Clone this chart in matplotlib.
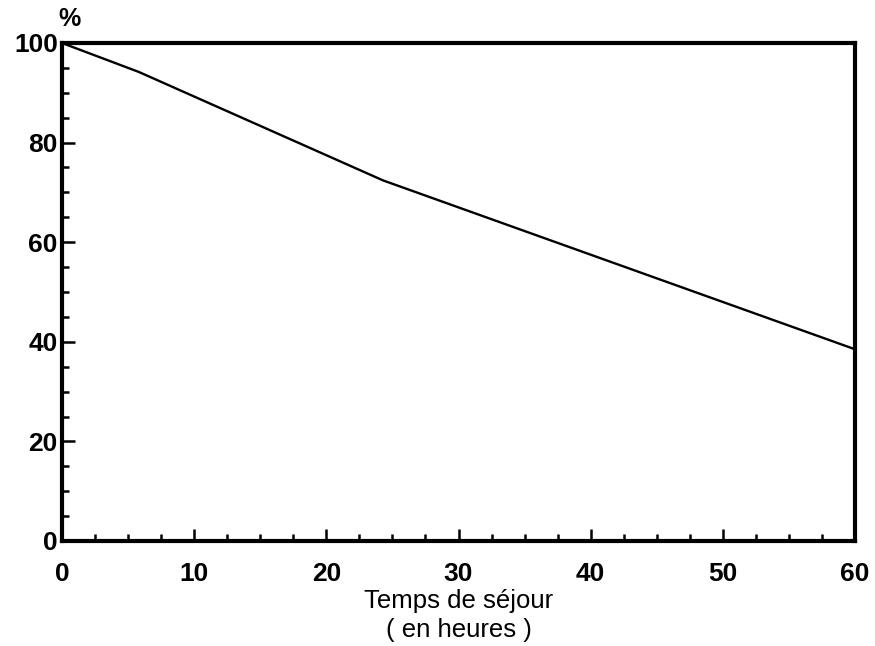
import matplotlib.pyplot as plt
from matplotlib.ticker import MultipleLocator

# ── Data ───────────────────────────────────────────────────────
hours = [0, 5.8, 24.3, 60]
percent = [100, 94.2, 72.4, 38.5]

x_ticks = [0, 10, 20, 30, 40, 50, 60]
y_ticks = [0, 20, 40, 60, 80, 100]

plt.rcParams['font.family'] = ['Liberation Sans', 'DejaVu Sans']

fig = plt.figure(figsize=(8.75, 6.46), dpi=100)
ax = fig.add_axes([62 / 875, 1 - 541 / 646, 793 / 875, 498 / 646])

ax.plot(hours, percent, color='black', linewidth=1.7, solid_joinstyle='miter')

ax.set_xlim(0, 60)
ax.set_ylim(0, 100)
ax.set_xticks(x_ticks)
ax.set_yticks(y_ticks)
ax.xaxis.set_minor_locator(MultipleLocator(2.5))
ax.yaxis.set_minor_locator(MultipleLocator(5))

for side in ax.spines.values():
    side.set_linewidth(3)

ax.tick_params(which='both', direction='in', width=1.8, colors='black',
               top=False, right=False)
ax.tick_params(which='major', length=9, labelsize=19)
ax.tick_params(which='minor', length=5)
ax.tick_params(axis='x', pad=15)
ax.tick_params(axis='y', pad=3)
for lbl in ax.get_xticklabels() + ax.get_yticklabels():
    lbl.set_fontweight('bold')

ax.set_xlabel('Temps de séjour\n( en heures )', fontsize=18.5, labelpad=2,
              linespacing=1.3)
ax.text(-0.3, 102.5, '%', fontsize=18, fontweight='bold', ha='left', va='bottom',
        clip_on=False)

fig.savefig('out.png', dpi=100)
